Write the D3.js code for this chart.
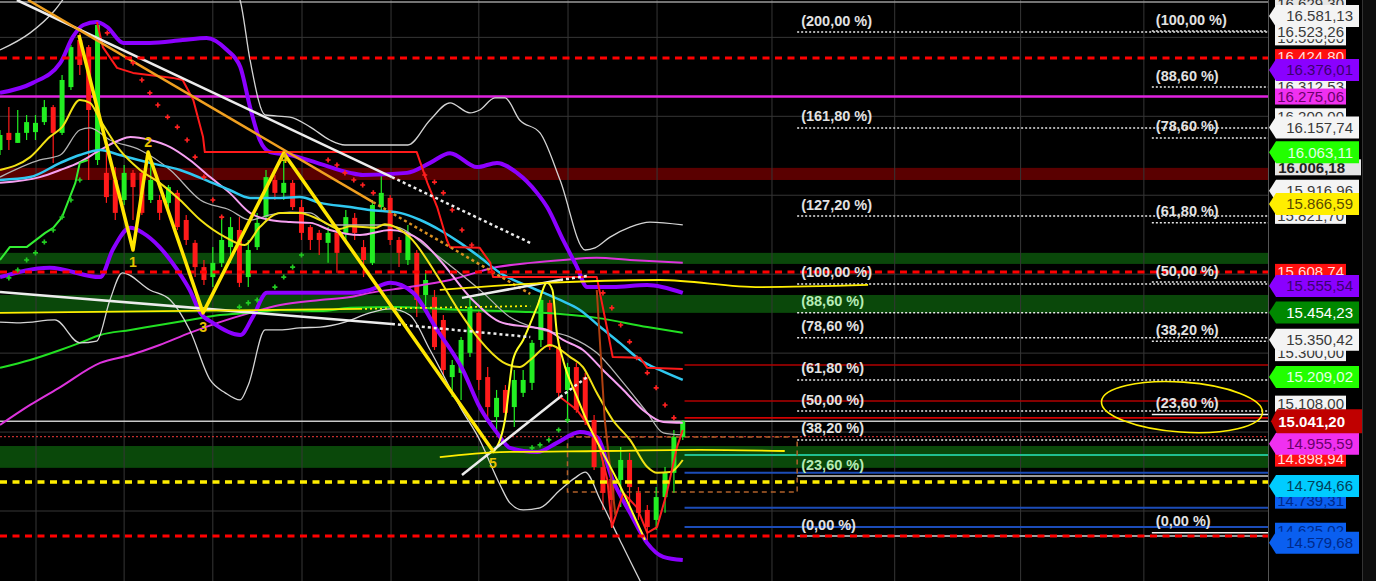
<!DOCTYPE html>
<html><head><meta charset="utf-8">
<script src="https://cdn.jsdelivr.net/npm/d3@7"></script>
<style>html,body{margin:0;padding:0;background:#000;overflow:hidden}</style>
</head><body><svg id="c" width="1376" height="581"></svg>
<script>
// ---------------- DATA ----------------
const candleOpen  = [16072,16137,16099,16137,16140,16178,16235,16137,16311,16490,16463,16034,15985,15958,15882,15985,15985,15882,15882,15871,15909,15806,15719,15627,15589,15643,15703,15768,15589,15703,15817,15958,15909,15947,15855,15779,15757,15719,15757,15757,15814,15703,15643,15855,15890,15730,15654,15681,15521,15513,15426,15209,15225,15301,15453,15209,15057,15160,15095,15149,15187,15350,15491,15323,15160,15247,15209,15046,14867,14822,14818,14894,14769,14704,14666,14753,14845,14981];
const candleHigh  = [16148,16235,16224,16205,16205,16262,16243,16357,16471,16517,16471,16566,16110,16007,16015,15996,15996,16034,15901,15939,15920,15825,15730,15654,15703,15817,15817,15817,15730,15833,15996,15977,16034,15958,15882,15787,15768,15779,15779,15844,15833,15730,15882,15977,15901,15741,15787,15692,15616,15540,15445,15274,15361,15513,15464,15247,15160,15179,15236,15236,15350,15540,15502,15350,15263,15263,15225,15065,14894,14856,14943,14921,14791,14723,14791,14867,15008,15046];
const candleLow   = [16053,16072,16099,16110,16110,16167,16023,16129,16300,16357,15958,16015,15871,15806,15863,15806,15825,15871,15806,15844,15768,15711,15589,15559,15551,15627,15643,15551,15551,15692,15806,15882,15882,15844,15730,15692,15673,15643,15605,15730,15730,15589,15635,15844,15711,15627,15635,15437,15453,15312,15217,15133,15122,15285,15160,15035,14997,15046,15019,15133,15160,15323,15312,15122,15035,15073,15027,14856,14704,14639,14715,14704,14666,14590,14628,14693,14769,14970];
const candleClose = [16129,16110,16137,16178,16175,16235,16137,16338,16463,16395,16224,16547,15893,15833,15985,15931,15833,15958,15833,15931,15779,15730,15627,15578,15643,15730,15779,15567,15692,15795,15969,15909,15947,15855,15757,15730,15730,15757,15681,15817,15757,15654,15863,15909,15730,15681,15757,15502,15578,15323,15236,15255,15350,15475,15198,15095,15130,15073,15198,15198,15339,15502,15323,15149,15247,15084,15046,14867,14769,14742,14894,14791,14693,14639,14753,14845,14981,15041];

// indicator series: [bar index, price]
const purpleUpper = [[0,16289],[3.7,16327],[6.8,16403],[8.2,16501],[9.4,16547],[10.9,16558],[12.1,16539],[13.9,16479],[16.9,16479],[20.6,16490],[23.3,16498],[25.6,16452],[27.1,16387],[28.2,16235],[29.3,16110],[30.45,16064],[32.7,16053],[35.75,16023],[39.5,15985],[40.9,15977],[45.9,15985],[48.5,16023],[50.75,16060],[53.8,16007],[56.05,16023],[58.3,15985],[60.56,15909],[61.7,15855],[63.5,15730],[65.07,15627],[66.2,15551],[69.1,15551],[72.97,15559],[77,15529]];
const purpleLower = [[0,15589],[5.6,15624],[11.3,15589],[12.7,15692],[14.7,15776],[16.1,15757],[18,15703],[20,15616],[21.4,15540],[22.6,15453],[24,15415],[27.1,15369],[28.5,15437],[30.1,15529],[33.8,15529],[39.5,15529],[41.7,15540],[44,15567],[46.6,15529],[49.3,15388],[52.2,15236],[54.1,15095],[56.05,14997],[57.5,14940],[60.6,14924],[62.8,14959],[65.4,15000],[67.3,14981],[69.1,14818],[71.05,14693],[72.97,14579],[74.8,14526],[77,14514]];
const whiteUpper = [[0,16452],[3.4,16517],[6.2,16604],[7.9,16680],[16.9,16950],[26.5,16680],[27.07,16642],[28.2,16414],[29.9,16205],[32.7,16197],[35,16159],[37.2,16110],[38.9,16091],[41.7,16091],[46,16091],[48.5,16186],[50.75,16251],[53,16213],[54.1,16224],[55.8,16270],[56.95,16270],[58.6,16186],[60.9,16137],[63.16,15958],[66,15692],[67.1,15700],[68.8,15741],[71.05,15779],[73.3,15798],[77,15787]];
const whiteLower = [[0,15418],[2.3,15415],[6.2,15426],[9,15339],[10.9,15346],[12.4,15502],[13.8,15605],[16.9,15540],[19.2,15502],[21.4,15388],[23.7,15198],[25.4,15149],[27.07,15122],[28,15179],[29.9,15388],[31.6,15388],[33.8,15396],[36.1,15399],[38.9,15418],[41.7,15453],[44,15468],[46.2,15445],[48.5,15312],[51.9,15095],[54.1,14970],[56.4,14799],[57.5,14731],[59,14704],[60.9,14712],[63.16,14780],[64.85,14826],[66,14848],[67.7,14742],[69.9,14590],[72.2,14434],[73.3,14362]];
const grayMid = [[0,15969],[4.5,16034],[6.8,16053],[9,16148],[10.15,16156],[12.4,16110],[15.8,16072],[19.2,15996],[22.6,15882],[25.9,15844],[28.2,15806],[30.45,15825],[32.7,15836],[35,15833],[37.2,15787],[39.5,15787],[42.9,15787],[45.1,15776],[48.5,15692],[54.5,15529],[57.5,15437],[61.2,15388],[64.3,15361],[67.3,15301],[70.3,15187],[73,15073],[74.8,14997],[77,14989]];
const pinkLine = [[0,15947],[4.5,15969],[6.8,15996],[9,16026],[11.3,16072],[13.5,16110],[14.7,16121],[16.9,16110],[19.2,16083],[21.4,16034],[23.7,15969],[25.9,15909],[28.2,15833],[30.45,15806],[32.7,15798],[35,15795],[37.2,15768],[40.6,15749],[44,15768],[47.4,15730],[49.6,15654],[53.3,15502],[56.7,15415],[59.8,15399],[61.7,15388],[63.5,15350],[65.75,15312],[68,15236],[70.3,15160],[72.5,15084],[74.8,15038],[77,15035]];
const cyanLine = [[0,15958],[3.4,15969],[6.8,16023],[9,16053],[11.3,16072],[13.5,16053],[16.9,16023],[20.3,15996],[22.6,15966],[25.9,15920],[28.2,15890],[31.6,15890],[33.8,15893],[36.1,15871],[39.5,15855],[41.7,15844],[45.1,15833],[47.4,15806],[49.6,15768],[51.9,15719],[54.1,15665],[56.4,15605],[59.8,15551],[63.16,15502],[65.4,15464],[67.7,15399],[69.9,15339],[72.2,15274],[74.4,15236],[77,15198]];
const yellowMA = [[0,15996],[3.4,16045],[5.6,16121],[7,16159],[9,16262],[10.15,16251],[11.3,16186],[13.5,16072],[15.8,15996],[18,15947],[20.3,15882],[22.6,15806],[25.4,15741],[27.6,15711],[29.3,15779],[31.6,15833],[33.8,15833],[36.1,15806],[38.3,15772],[39.5,15782],[42.3,15776],[43.4,15790],[46.2,15741],[49.6,15578],[51.9,15453],[54.1,15350],[56.7,15266],[58.6,15247],[59.8,15274],[62,15331],[64.3,15285],[65.75,15247],[67.3,15149],[69.1,15046],[71.05,14970],[73,14867],[74.1,14845],[75.6,14848],[77,14894]];
const yellowFast = [[55.6,14921],[56.95,15046],[57.85,15274],[59,15350],[60.56,15475],[61.7,15567],[62.3,15540],[62.8,15377],[63.5,15274],[65.07,15133],[66.5,15019],[68,14921],[69.6,14818],[71.05,14715],[72.74,14590]];
const greenSlow = [[0,15244],[3.4,15274],[6.8,15312],[9,15339],[11.3,15369],[14.7,15388],[18,15407],[21.4,15426],[24.8,15445],[28.2,15453],[31.6,15464],[36.1,15460],[39.5,15472],[44.8,15475],[52.2,15464],[59.8,15456],[67.3,15434],[73,15399],[77,15377]];
const magentaSlow = [[0,15027],[3.4,15103],[6.8,15171],[11.3,15263],[14.7,15293],[18,15331],[21.4,15377],[24.8,15418],[28.2,15453],[31.6,15483],[36.1,15502],[39.5,15513],[41.7,15529],[46.2,15551],[50.75,15578],[56.05,15627],[59.8,15643],[63.5,15654],[67.3,15662],[71.05,15654],[77,15643]];
const greenStop = [[0,15654],[1.1,15703],[3,15703],[5.1,15757],[6,15776],[7,15817],[8.5,15947],[9,16023],[9.9,16034]];
const redStop = [[10.94,16558],[11.6,16463],[13.2,16384],[15,16365],[19.5,16346],[20.6,16338],[21.8,16262],[22.9,16121],[23.1,16064],[47,16064],[48.2,15947],[49.3,15855],[50.4,15730],[50.75,15703],[54.1,15700],[55.3,15643],[55.6,15589],[67.3,15589],[68.5,15388],[69.1,15285],[72.2,15282],[73,15244],[77,15240]];
const redFast = [[63.16,15133],[65.07,15084],[67.3,14981],[68.5,14818],[69,14639],[70.3,14769],[71.8,14715],[73,14617],[74.1,14639],[75.2,14769],[76.35,14943],[77,15008]];
const brownLine = [[67.3,15540],[68.2,15046],[69.4,14685]];
const sarRed = [[12.1,16517],[15,16403],[16,16338],[16.9,16289],[17.8,16243],[18.9,16197],[20,16159],[21.1,16110],[22,16045],[23,15969],[24,15882],[25,15817],[37,16034],[38,16015],[38.9,15985],[39.9,15958],[40.9,15939],[42.1,15909],[47.9,15977],[49,15950],[50,15909],[51,15844],[52.1,15768],[53.2,15711],[68,15529],[69,15472],[70,15407],[71,15343],[71.8,15282],[73,15225],[74,15168],[75,15103],[76,15054]];
const sarGreen = [[1,15586],[2,15616],[3,15654],[4,15681],[5,15722],[6,15768],[7,15817],[8,15882],[9,15958],[27,15475],[28,15491],[29,15502],[31,15551],[32,15589],[33,15627],[34,15673],[60,14940],[60.9,14951],[61.9,14970],[63,15008],[64,15046]];

// Elliott wave
const waveBars   = [8.9,15,16.7,22.9,32,55.6];
const wavePrices = [16509,15692,16064,15453,16060,14928];
const waveLabels = ['','1','2','3','4','5'];

// trend lines: solid part, dotted extension
const trendWhiteTop  = [[1.9,16642],[44.2,15969]], trendWhiteTopExt  = [[44.2,15969],[59.8,15719]];
const trendOrange    = [[3.16,16642],[42.07,15874]], trendOrangeExt   = [[42.07,15874],[59.8,15525]];
const trendWhiteLow  = [[0,15532],[44.2,15411]],   trendWhiteLowExt  = [[44.2,15411],[59.8,15361]];
const trendRise1     = [[52.1,14837],[63.16,15133]], trendRise1Ext   = [[63.16,15133],[66.2,15209]];
const trendRise2     = [[52.1,15510],[63.16,15578]], trendRise2Ext   = [[63.16,15578],[66.2,15593]];
const yellowHand1    = [[0,15453],[40.6,15468]],   yellowHand1Ext    = [[40.6,15468],[59.8,15479]];
const yellowHand2    = [[49.6,15540],[61.5,15567],[74.4,15578],[85.7,15551],[97.9,15559]];
const yellowHand3    = [[49.6,14905],[56.4,14924],[67.7,14928],[78.9,14932],[88.5,14928]];

// horizontal levels (prices)
const redDashLevels    = [16422, 15608, 14605];
const yellowDashLevels = [14810];
const magentaLevels    = [16275.06];
const lastPrice        = 15041.2;
const redDotLevels     = [14983];
const greenBands       = [[15681,15639],[15521,15453],[14947,14864]];
const darkRedBands     = [[16004,15958]];
const redRightLevels   = [15255, 15118, 15054];
const blueRightLevels  = [14845, 14712, 14639];
const tealRightLevels  = [14913];
const rightLevelStart  = 77.2;
const boxBars   = [64, 89.9];
const boxPrices = [14981, 14772];

// fibonacci
const fibLeftLabels  = ['(200,00 %)','(161,80 %)','(127,20 %)','(100,00 %)','(88,60 %)','(78,60 %)','(61,80 %)','(50,00 %)','(38,20 %)','(23,60 %)','(0,00 %)'];
const fibLeftPrices  = [16520,16156,15821,15563,15453,15358,15198,15080,14970,14833,14605];
const fibLeftStart   = 89.9;
const fibRightLabels = ['(100,00 %)','(88,60 %)','(78,60 %)','(61,80 %)','(50,00 %)','(38,20 %)','(23,60 %)','(0,00 %)'];
const fibRightPrices = [16524,16311,16118,15795,15570,15345,15067,14617];
const fibRightStart  = 129.9;

// annotation ellipse (bar, price, radius in bars, radius in price)
const ellipseCenter = [133.3, 15095];
const ellipseRadius = [9.1, 95];

// grid
const gridBars   = [4.06,14,24,34.06,44.1,54,64.06,74.1,87.06,100.9,115.1,129];
const gridPrices = [16500,16200,15900,15600,15300,15000,14700];

// right axis price labels
const plainLabels = ['16.629,30','16.500,00','16.523,26','16.424,80','16.312,53','16.275,06','16.200,00','16.006,18','15.821,70','15.608,74','15.300,00','15.108,00','14.898,94','14.739,31','14.625,02'];
const plainKinds  = ['gray','white','white','red','white','magenta','white','grayBold','white','red','white','white','red','blue','blue'];
const arrowLabels = ['16.581,13','16.376,01','16.157,74','16.063,11','15.916,96','15.866,59','15.555,54','15.454,23','15.350,42','15.209,02','14.955,59','14.794,66','14.579,68'];
const arrowKinds  = ['white','purple','white','lime','white','yellow','purple','green','white','lime','magenta','cyan','blue'];
const currentLabel = '15.041,20';

// ---------------- DRAW ----------------
const W = 1376, H = 581, PR = 1268;
const FONT = "'Liberation Sans', Arial, sans-serif";
const svg = d3.select('#c');
const X = d3.scaleLinear().domain([0, 143]).range([0, PR]);
const Y = d3.scaleLinear().domain([14434, 16642]).range([H, 0]);

svg.append('rect').attr('width', W).attr('height', H).attr('fill', '#000');
svg.append('defs').append('clipPath').attr('id', 'clip')
  .append('rect').attr('x', 0).attr('y', 0).attr('width', PR).attr('height', H);
const plot = svg.append('g').attr('clip-path', 'url(#clip)');

// bands
function band(b, fill) {
  plot.append('rect').attr('x', 0).attr('width', PR)
    .attr('y', Y(b[0])).attr('height', Y(b[1]) - Y(b[0])).attr('fill', fill);
}
greenBands.forEach(b => band(b, '#0a480a'));
darkRedBands.forEach(b => band(b, '#5a0000'));

// grid
plot.selectAll('.vg').data(gridBars).join('line')
  .attr('x1', d => X(d)).attr('x2', d => X(d)).attr('y1', 0).attr('y2', H)
  .attr('stroke', '#363636').attr('stroke-width', 1);
plot.selectAll('.hg').data(gridPrices).join('line')
  .attr('x1', 0).attr('x2', PR).attr('y1', d => Y(d)).attr('y2', d => Y(d))
  .attr('stroke', '#363636').attr('stroke-width', 1);
plot.append('line').attr('x1', 0).attr('x2', PR).attr('y1', 2).attr('y2', 2)
  .attr('stroke', '#9a9a9a').attr('stroke-width', 1.5);

function hline(p, startBar, stroke, w, dash) {
  const l = plot.append('line').attr('x1', X(startBar)).attr('x2', PR)
    .attr('y1', Y(p)).attr('y2', Y(p)).attr('stroke', stroke).attr('stroke-width', w);
  if (dash) l.attr('stroke-dasharray', dash);
  return l;
}

// fib lines (drawn early, under indicators)
fibLeftPrices.forEach((p, i) => {
  const solid = fibLeftLabels[i] === '(23,60 %)' || fibLeftLabels[i] === '(0,00 %)';
  hline(p, fibLeftStart, solid ? '#cfcfcf' : '#e6e6e6', 1.5, solid ? null : '2,2');
});
fibRightPrices.forEach((p, i) => {
  const solid = fibRightLabels[i] === '(23,60 %)' || fibRightLabels[i] === '(0,00 %)';
  hline(p, fibRightStart, solid ? '#f0f0f0' : '#e6e6e6', 1.5, solid ? null : '2,2');
});

magentaLevels.forEach(p => hline(p, 0, '#e022e0', 2.5));
redRightLevels.forEach((p, i) => hline(p, rightLevelStart, i === 2 ? '#d00000' : '#b00000', 1.6));
blueRightLevels.forEach(p => hline(p, rightLevelStart, '#1c4cb8', 2));
tealRightLevels.forEach(p => hline(p, rightLevelStart, '#20c090', 2));
hline(lastPrice, 0, '#c8c8c8', 1.5);
redDotLevels.forEach(p => hline(p, 0, '#c03030', 1.3, '2,2'));

// dashed box
plot.append('rect').attr('x', X(boxBars[0])).attr('width', X(boxBars[1]) - X(boxBars[0]))
  .attr('y', Y(boxPrices[0])).attr('height', Y(boxPrices[1]) - Y(boxPrices[0]))
  .attr('fill', 'none').attr('stroke', '#b0602a').attr('stroke-width', 1.5).attr('stroke-dasharray', '5,4');

// candles
const idx = d3.range(candleOpen.length);
const up = i => candleClose[i] >= candleOpen[i];
const cw = 5;
plot.selectAll('.wick').data(idx).join('line')
  .attr('x1', i => X(i)).attr('x2', i => X(i))
  .attr('y1', i => Y(candleHigh[i])).attr('y2', i => Y(candleLow[i]))
  .attr('stroke', i => up(i) ? '#22ee22' : '#ff1a1a').attr('stroke-width', 1.2);
plot.selectAll('.body').data(idx).join('rect')
  .attr('x', i => X(i) - cw / 2).attr('width', cw)
  .attr('y', i => Y(Math.max(candleOpen[i], candleClose[i])))
  .attr('height', i => Math.max(1.5, Math.abs(Y(candleOpen[i]) - Y(candleClose[i]))))
  .attr('fill', i => up(i) ? '#22ee22' : '#ff1a1a');

// indicator lines
const smooth = d3.line().x(d => X(d[0])).y(d => Y(d[1])).curve(d3.curveMonotoneX);
const straight = d3.line().x(d => X(d[0])).y(d => Y(d[1]));
function path(data, gen, stroke, w, dash) {
  const p = plot.append('path').attr('d', gen(data)).attr('fill', 'none')
    .attr('stroke', stroke).attr('stroke-width', w).attr('stroke-linejoin', 'round');
  if (dash) p.attr('stroke-dasharray', dash);
  return p;
}
path(magentaSlow, smooth, '#dd33dd', 2);
path(greenSlow, smooth, '#22e022', 2);
path(whiteUpper, smooth, '#d4d4d4', 1.3);
path(whiteLower, smooth, '#d4d4d4', 1.3);
path(grayMid, smooth, '#b4b4b4', 1.3);
path(pinkLine, smooth, '#f7a0f2', 2);
path(cyanLine, smooth, '#30c8f0', 2.5);
path(yellowMA, smooth, '#f2e214', 2);
path(purpleUpper, smooth, '#8c00ff', 4);
path(purpleLower, smooth, '#8c00ff', 4);
path(greenStop, straight, '#33ee33', 2);
path(redStop, straight, '#ff1a1a', 2);
path(redFast, straight, '#ff2020', 2);
path(brownLine, straight, '#b04010', 2);
path(yellowFast, smooth, '#ffff22', 2);

// trend lines
path(trendWhiteTop, straight, '#ececec', 2.5);
path(trendWhiteTopExt, straight, '#ececec', 2.5, '3,3');
path(trendOrange, straight, '#f0a020', 2.5);
path(trendOrangeExt, straight, '#d89020', 2.5, '3,3');
path(trendWhiteLow, straight, '#ececec', 2.5);
path(trendWhiteLowExt, straight, '#ececec', 2.5, '3,3');
path(trendRise1, straight, '#ececec', 2.5);
path(trendRise1Ext, straight, '#ececec', 2.5, '3,3');
path(trendRise2, straight, '#ececec', 2.5);
path(trendRise2Ext, straight, '#ececec', 2.5, '3,3');
path(yellowHand1, straight, '#ffee00', 1.8);
path(yellowHand1Ext, straight, '#ffee00', 1.8, '2,3');
path(yellowHand2, smooth, '#ffee00', 1.8);
path(yellowHand3, smooth, '#ffee00', 1.8);

// dashed thick levels on top
redDashLevels.forEach(p => hline(p, 0, '#ff0000', 3, '7,5.5'));
yellowDashLevels.forEach(p => hline(p, 0, '#ffee00', 3.5, '7,5.5'));

// SAR dots
const cross = d3.symbol().type(d3.symbolCross).size(14);
plot.selectAll('.sr').data(sarRed).join('path').attr('d', cross)
  .attr('transform', d => `translate(${X(d[0])},${Y(d[1])})`).attr('fill', '#ff2020');
plot.selectAll('.sg').data(sarGreen).join('path').attr('d', cross)
  .attr('transform', d => `translate(${X(d[0])},${Y(d[1])})`).attr('fill', '#22cc22');

// Elliott zigzag
const wave = waveBars.map((b, i) => [b, wavePrices[i]]);
path(wave, straight, '#ffe600', 3.5);
const waveOff = [0, 17, -5, 19, 10, 17];
plot.selectAll('.wl').data(wave).join('text')
  .attr('x', d => X(d[0])).attr('y', (d, i) => Y(d[1]) + waveOff[i])
  .attr('text-anchor', 'middle').attr('font-family', FONT).attr('font-size', 14).attr('font-weight', 'bold')
  .attr('fill', '#e6c200').text((d, i) => waveLabels[i]);

// fib labels
plot.selectAll('.fl').data(fibLeftPrices).join('text')
  .attr('x', X(fibLeftStart) + 4).attr('y', d => Y(d) - 6.5)
  .attr('font-family', FONT).attr('font-size', 14.5).attr('font-weight', 'bold')
  .attr('fill', (d, i) => (fibLeftLabels[i] === '(88,60 %)' || fibLeftLabels[i] === '(23,60 %)') ? '#b6ecb6' : '#e2e2e2')
  .text((d, i) => fibLeftLabels[i]);
plot.selectAll('.fr').data(fibRightPrices).join('text')
  .attr('x', X(fibRightStart) + 4).attr('y', d => Y(d) - 6.5)
  .attr('font-family', FONT).attr('font-size', 14.5).attr('font-weight', 'bold')
  .attr('fill', '#e2e2e2').text((d, i) => fibRightLabels[i]);

// ellipse annotation
const ecx = X(ellipseCenter[0]), ecy = Y(ellipseCenter[1]);
plot.append('ellipse').attr('cx', ecx).attr('cy', ecy)
  .attr('rx', X(ellipseRadius[0]) - X(0)).attr('ry', Y(ellipseCenter[1] - ellipseRadius[1]) - ecy)
  .attr('transform', `rotate(4,${ecx},${ecy})`)
  .attr('fill', 'none').attr('stroke', '#ffee00').attr('stroke-width', 1.6);

// right axis
svg.append('line').attr('x1', PR + 0.5).attr('x2', PR + 0.5).attr('y1', 0).attr('y2', H).attr('stroke', '#555');
svg.append('rect').attr('x', 1362).attr('y', 0).attr('width', 14).attr('height', H).attr('fill', '#0e0e0e');
svg.append('line').attr('x1', 1362.5).attr('x2', 1362.5).attr('y1', 0).attr('y2', H).attr('stroke', '#333');

const kindStyle = {
  white:   {bg: '#f4f4f4', fg: '#3a3a3a'},
  gray:    {bg: '#e6e6e6', fg: '#333'},
  grayBold:{bg: '#e4e4e4', fg: '#222', bold: true, wide: true},
  red:     {bg: '#ff1010', fg: '#ffdede'},
  magenta: {bg: '#f030f0', fg: '#6a006a'},
  purple:  {bg: '#8a00ff', fg: '#3c006e'},
  lime:    {bg: '#22ff00', fg: '#e4ffe4'},
  yellow:  {bg: '#ffee00', fg: '#5a4a00'},
  green:   {bg: '#008800', fg: '#ffffff'},
  cyan:    {bg: '#00ccff', fg: '#00405a'},
  blue:    {bg: '#0a5ff0', fg: '#002a8a'}
};
const parseP = s => +s.replace(/\./g, '').replace(',', '.');
const ax = svg.append('g').attr('font-family', FONT).attr('font-size', 15);
plainLabels.forEach((t, i) => {
  const st = kindStyle[plainKinds[i]], y = Y(parseP(t));
  const x1 = st.wide ? 1361 : 1346;
  ax.append('rect').attr('x', 1275).attr('y', y - 8).attr('width', x1 - 1275).attr('height', 16).attr('fill', st.bg);
  ax.append('text').attr('x', st.wide ? 1345 : 1344).attr('y', y + 5.3).attr('text-anchor', 'end')
    .attr('fill', st.fg).attr('font-weight', st.bold ? 'bold' : 'normal').text(t);
});
arrowLabels.forEach((t, i) => {
  const st = kindStyle[arrowKinds[i]], y = Y(parseP(t));
  ax.append('path').attr('d', `M1269,${y} L1276,${y - 11} L1359,${y - 11} L1359,${y + 11} L1276,${y + 11} Z`).attr('fill', st.bg);
  ax.append('text').attr('x', 1353).attr('y', y + 5.4).attr('text-anchor', 'end').attr('fill', st.fg).text(t);
});
{
  const y = Y(parseP(currentLabel));
  ax.append('path').attr('d', `M1271,${y} L1277,${y - 12} L1362,${y - 12} L1362,${y + 12} L1277,${y + 12} Z`).attr('fill', '#c00000');
  ax.append('text').attr('x', 1345).attr('y', y + 5.5).attr('text-anchor', 'end')
    .attr('fill', '#ffffff').attr('font-weight', 'bold').attr('font-size', 15).text(currentLabel);
}
</script></body></html>
